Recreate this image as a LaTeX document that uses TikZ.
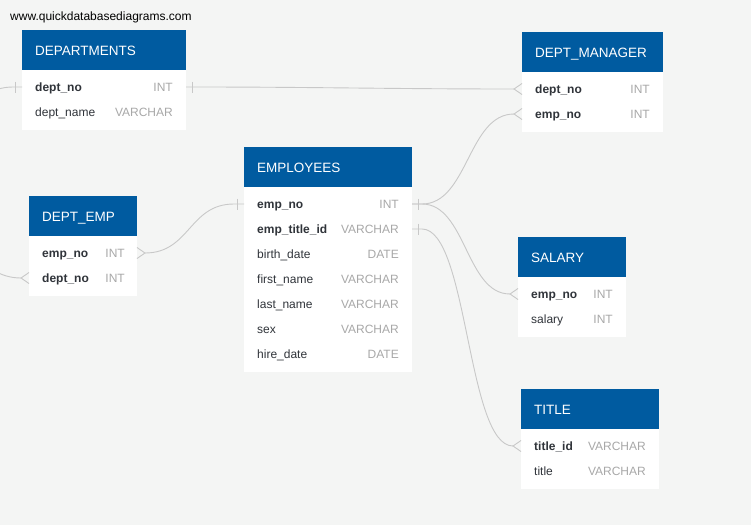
\documentclass[tikz,border=0pt]{standalone}
\usepackage{fontspec}
\setmainfont{Liberation Sans}
\definecolor{bgC}{RGB}{244,245,244}
\definecolor{hdrC}{RGB}{0,91,160}
\definecolor{txtC}{RGB}{48,52,58}
\definecolor{typC}{RGB}{168,168,168}
\definecolor{lineC}{RGB}{200,200,200}
\tikzset{
  tblbody/.style={fill=white, inner sep=0pt, outer sep=0pt, anchor=north west},
  tblhead/.style={fill=hdrC, inner sep=0pt, outer sep=0pt, anchor=north west, minimum height=40pt},
  htext/.style={text=white, font=\fontsize{13.5}{16}\selectfont, anchor=base west, inner sep=0pt},
  keyf/.style={text=txtC, font=\bfseries\fontsize{12}{14}\selectfont, anchor=base west, inner sep=0pt},
  fld/.style={text=txtC, font=\fontsize{12}{14}\selectfont, anchor=base west, inner sep=0pt},
  typ/.style={text=typC, font=\fontsize{12}{14}\selectfont, anchor=base east, inner sep=0pt},
  conn/.style={draw=lineC, line width=0.9pt},
}
\newcommand\mkfootL[1]{\draw[conn] ([yshift=5.5pt]#1) -- ([xshift=-8pt]#1) -- ([yshift=-5.5pt]#1);}
\newcommand\mkfootR[1]{\draw[conn] ([yshift=5.5pt]#1) -- ([xshift=8pt]#1) -- ([yshift=-5.5pt]#1);}
\newcommand\mkbarL[1]{\draw[conn] ([xshift=-7pt,yshift=5.5pt]#1) -- ([xshift=-7pt,yshift=-5.5pt]#1);}
\newcommand\mkbarR[1]{\draw[conn] ([xshift=6pt,yshift=5.5pt]#1) -- ([xshift=6pt,yshift=-5.5pt]#1);}
\begin{document}
\begin{tikzpicture}[x=1pt,y=-1pt]
\fill[bgC] (0,0) rectangle (751,525);
\useasboundingbox (0,0) rectangle (751,525);
\clip (0,0) rectangle (751,525);

\node[anchor=base west, inner sep=0pt, font=\fontsize{12}{14}\selectfont, text=black] (site) at (10,20) {www.quickdatabasediagrams.com};

% ---------- DEPARTMENTS ----------
\node[tblbody, minimum width=164pt, minimum height=100pt] (dep) at (22,30) {};
\node[tblhead, minimum width=164pt] (dep-h) at (22,30) {};
\node[htext] (dep-t) at (35,55) {DEPARTMENTS};
\node[keyf] (dep-r1) at (35,91) {dept\_no};
\node[typ] (dep-y1) at (173,91) {INT};
\node[fld] (dep-r2) at (35,116) {dept\_name};
\node[typ] (dep-y2) at (173,116) {VARCHAR};
\coordinate (dep-r1-L) at (22,87);
\coordinate (dep-r1-R) at (186,87);

% ---------- DEPT_MANAGER ----------
\node[tblbody, minimum width=141pt, minimum height=100pt] (dm) at (522,32) {};
\node[tblhead, minimum width=141pt] (dm-h) at (522,32) {};
\node[htext] (dm-t) at (535,57) {DEPT\_MANAGER};
\node[keyf] (dm-r1) at (535,93) {dept\_no};
\node[typ] (dm-y1) at (650,93) {INT};
\node[keyf] (dm-r2) at (535,118) {emp\_no};
\node[typ] (dm-y2) at (650,118) {INT};
\coordinate (dm-r1-L) at (522,89);
\coordinate (dm-r2-L) at (522,114);

% ---------- EMPLOYEES ----------
\node[tblbody, minimum width=168pt, minimum height=225pt] (emp) at (244,147) {};
\node[tblhead, minimum width=168pt] (emp-h) at (244,147) {};
\node[htext] (emp-t) at (257,172) {EMPLOYEES};
\node[keyf] (emp-r1) at (257,208) {emp\_no};
\node[typ] (emp-y1) at (399,208) {INT};
\node[keyf] (emp-r2) at (257,233) {emp\_title\_id};
\node[typ] (emp-y2) at (399,233) {VARCHAR};
\node[fld] (emp-r3) at (257,258) {birth\_date};
\node[typ] (emp-y3) at (399,258) {DATE};
\node[fld] (emp-r4) at (257,283) {first\_name};
\node[typ] (emp-y4) at (399,283) {VARCHAR};
\node[fld] (emp-r5) at (257,308) {last\_name};
\node[typ] (emp-y5) at (399,308) {VARCHAR};
\node[fld] (emp-r6) at (257,333) {sex};
\node[typ] (emp-y6) at (399,333) {VARCHAR};
\node[fld] (emp-r7) at (257,358) {hire\_date};
\node[typ] (emp-y7) at (399,358) {DATE};
\coordinate (emp-r1-L) at (244,204);
\coordinate (emp-r1-R) at (412,204);
\coordinate (emp-r2-R) at (412,229);

% ---------- DEPT_EMP ----------
\node[tblbody, minimum width=108pt, minimum height=100pt] (de) at (29,196) {};
\node[tblhead, minimum width=108pt] (de-h) at (29,196) {};
\node[htext] (de-t) at (42,221) {DEPT\_EMP};
\node[keyf] (de-r1) at (42,257) {emp\_no};
\node[typ] (de-y1) at (125,257) {INT};
\node[keyf] (de-r2) at (42,282) {dept\_no};
\node[typ] (de-y2) at (125,282) {INT};
\coordinate (de-r1-R) at (137,253);
\coordinate (de-r2-L) at (29,278);

% ---------- SALARY ----------
\node[tblbody, minimum width=108pt, minimum height=100pt] (sal) at (518,237) {};
\node[tblhead, minimum width=108pt] (sal-h) at (518,237) {};
\node[htext] (sal-t) at (531,262) {SALARY};
\node[keyf] (sal-r1) at (531,298) {emp\_no};
\node[typ] (sal-y1) at (613,298) {INT};
\node[fld] (sal-r2) at (531,323) {salary};
\node[typ] (sal-y2) at (613,323) {INT};
\coordinate (sal-r1-L) at (518,294);

% ---------- TITLE ----------
\node[tblbody, minimum width=138pt, minimum height=100pt] (tit) at (521,389) {};
\node[tblhead, minimum width=138pt] (tit-h) at (521,389) {};
\node[htext] (tit-t) at (534,414) {TITLE};
\node[keyf] (tit-r1) at (534,450) {title\_id};
\node[typ] (tit-y1) at (646,450) {VARCHAR};
\node[fld] (tit-r2) at (534,475) {title};
\node[typ] (tit-y2) at (646,475) {VARCHAR};
\coordinate (tit-r1-L) at (521,446);

% ---------- connectors ----------
\draw[conn] (dep-r1-R) -- ++(8,0) .. controls +(120,0) and +(-120,0) .. ([xshift=-8pt]dm-r1-L);
\mkbarR{dep-r1-R} \mkfootL{dm-r1-L}

\draw[conn] (emp-r1-R) -- ++(10,0) .. controls +(46,0) and +(-46,0) .. ([xshift=-8pt]dm-r2-L);
\mkfootL{dm-r2-L}
\draw[conn] (emp-r1-R) -- ++(10,0) .. controls +(44,0) and +(-44,0) .. ([xshift=-8pt]sal-r1-L);
\mkfootL{sal-r1-L}
\mkbarR{emp-r1-R}

\draw[conn] (emp-r2-R) -- ++(10,0) .. controls +(46,0) and +(-46,0) .. ([xshift=-8pt]tit-r1-L);
\mkbarR{emp-r2-R} \mkfootL{tit-r1-L}

\draw[conn] ([xshift=8pt]de-r1-R) .. controls +(45,0) and +(-45,0) .. ([xshift=-10pt]emp-r1-L) -- (emp-r1-L);
\mkfootR{de-r1-R} \mkbarL{emp-r1-L}

\draw[conn] (dep-r1-L) -- ++(-9,0) .. controls +(-85,0) and +(-85,0) .. ([xshift=-8pt]de-r2-L);
\mkbarL{dep-r1-L} \mkfootL{de-r2-L}
\end{tikzpicture}
\end{document}
